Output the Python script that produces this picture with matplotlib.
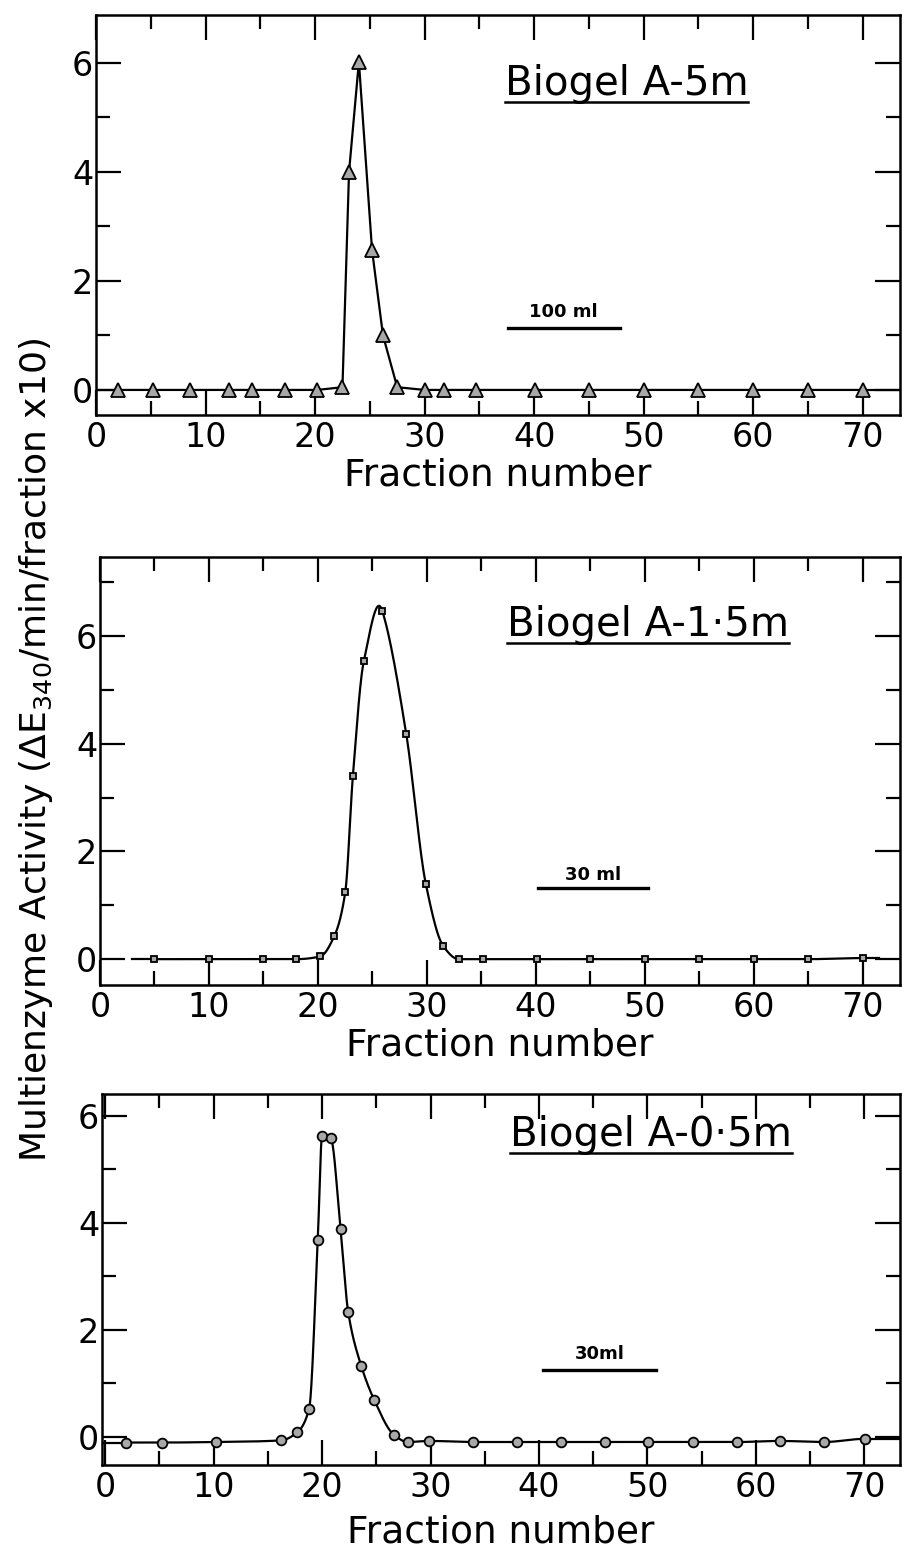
import numpy as np
import matplotlib
matplotlib.use("Agg")
import matplotlib.pyplot as plt

plt.rcParams['font.family'] = ['DejaVu Sans']

# ---------------- data ----------------
# Panel 1: Biogel A-5m (triangles)
x_a5 = [2, 5.2, 8.6, 12.1, 14.2, 17.3, 20.2, 22.5, 23.1, 24.0, 25.2, 26.2, 27.5,
        30.0, 31.8, 34.7, 40.1, 45.0, 50.0, 55.0, 60.0, 65.0, 70.0]
y_a5 = [0, 0, 0, 0, 0, 0, 0, 0.05, 4.0, 6.02, 2.57, 1.0, 0.05,
        0, 0, 0, 0, 0, 0, 0, 0, 0, 0]

# Panel 2: Biogel A-1.5m (squares)
x_a15 = [5, 10, 15, 18, 20.2, 21.5, 22.5, 23.2, 24.2, 25.9, 28.1, 29.9, 31.5,
         32.9, 35.1, 40.1, 45, 50, 55, 60, 65, 70]
y_a15 = [0, 0, 0, 0, 0.05, 0.43, 1.24, 3.4, 5.53, 6.47, 4.18, 1.39, 0.24,
         0.0, 0, 0, 0, 0, 0, 0, 0, 0.02]

# Panel 3: Biogel A-0.5m (circles)
x_a05 = [1.9, 5.2, 10.2, 16.2, 17.7, 18.8, 19.6, 20.0, 20.8, 21.7, 22.4, 23.6,
         24.8, 26.6, 27.9, 29.9, 33.9, 38.0, 42.0, 46.1, 50.1, 54.2, 58.3,
         62.2, 66.3, 70.1]
y_a05 = [-0.11, -0.11, -0.1, -0.07, 0.08, 0.52, 3.68, 5.63, 5.58, 3.88, 2.34,
         1.33, 0.69, 0.04, -0.1, -0.08, -0.1, -0.1, -0.1, -0.1, -0.1, -0.1,
         -0.1, -0.08, -0.1, -0.04]

titles = ["Biogel A-5m", "Biogel A-1\u00b75m", "Biogel A-0\u00b75m"]
scale_labels = ["100 ml", "30 ml", "30ml"]
xticks = [0, 10, 20, 30, 40, 50, 60, 70]
yticks = [0, 2, 4, 6]


def smooth_curve(x, y, free_peak=False, n=30):
    """Monotone cubic (PCHIP-like) drawing of the line through the points."""
    x = np.asarray(x, float)
    y = np.asarray(y, float)
    h = np.diff(x)
    d = np.diff(y) / h
    m = np.zeros_like(y)
    for k in range(1, len(x) - 1):
        if d[k - 1] * d[k] > 0:
            w1 = 2 * h[k] + h[k - 1]
            w2 = h[k] + 2 * h[k - 1]
            m[k] = (w1 + w2) / (w1 / d[k - 1] + w2 / d[k])
    if free_peak:
        k = int(np.argmax(y))
        m[k] = 0.75 * d[k] + 0.25 * d[k - 1]
    t = np.linspace(0, 1, n, endpoint=False)
    h00 = 2 * t**3 - 3 * t**2 + 1
    h10 = t**3 - 2 * t**2 + t
    h01 = -2 * t**3 + 3 * t**2
    h11 = t**3 - t**2
    xs, ys = [], []
    for i in range(len(x) - 1):
        xs.append(x[i] + t * h[i])
        ys.append(h00 * y[i] + h10 * h[i] * m[i] + h01 * y[i + 1] + h11 * h[i] * m[i + 1])
    xs.append([x[-1]])
    ys.append([y[-1]])
    return np.concatenate(xs), np.concatenate(ys)


W, H = 902, 1554
fig = plt.figure(figsize=(W / 100, H / 100), dpi=100)


def px_axes(left, top, right, bottom):
    return fig.add_axes([left / W, 1 - bottom / H, (right - left) / W, (bottom - top) / H])


ax1 = px_axes(96, 15, 900, 415)
ax2 = px_axes(100, 557, 900, 985)
ax3 = px_axes(102, 1094, 900, 1465)

cfg = [
    dict(ax=ax1, x=x_a5, y=y_a5, marker='^', ms=10, smooth=None,
         xlim=(0, 73.4), ylim=(-0.46, 6.88), yminor=[1, 3, 5],
         line_from=0, line_to=73.4,
         tpos=(37.3, 5.62), bar=(37.6, 47.8, 1.14), btxt=1.43),
    dict(ax=ax2, x=x_a15, y=y_a15, marker='s', ms=5, smooth='peak',
         xlim=(0, 73.4), ylim=(-0.48, 7.47), yminor=[1, 3, 5, 7],
         line_from=2.9, line_to=71.5,
         tpos=(37.3, 6.2), bar=(40.2, 50.3, 1.32), btxt=1.57),
    dict(ax=ax3, x=x_a05, y=y_a05, marker='o', ms=7, smooth='mono',
         xlim=(-0.3, 73.3), ylim=(-0.53, 6.41), yminor=[1, 3, 5],
         line_from=-0.3, line_to=73.3,
         tpos=(37.3, 5.64), bar=(40.4, 50.8, 1.25), btxt=1.55),
]

for c, title, sl in zip(cfg, titles, scale_labels):
    ax = c['ax']
    x, y = c['x'], c['y']
    if c['smooth'] is None:
        sx, sy = np.asarray(x, float), np.asarray(y, float)
    else:
        sx, sy = smooth_curve(x, y, free_peak=(c['smooth'] == 'peak'))
    # baseline extensions of the drawn line
    ax.plot([c['line_from'], x[0]], [y[0], y[0]], color='black', lw=1.6, zorder=2)
    ax.plot([x[-1], c['line_to']], [y[-1], y[-1]], color='black', lw=1.6, zorder=2)
    ax.plot(sx, sy, color='black', lw=1.6, zorder=2)
    ax.plot(x, y, linestyle='none', marker=c['marker'], ms=c['ms'],
            mfc='#a8a8a8', mec='black', mew=1.3, zorder=3)

    ax.set_xlim(*c['xlim'])
    ax.set_ylim(*c['ylim'])
    ax.set_xticks(xticks)
    ax.set_xticks([5, 15, 25, 35, 45, 55, 65], minor=True)
    ax.set_yticks(yticks)
    ax.set_yticks(c['yminor'], minor=True)
    ax.tick_params(which='both', direction='in', top=True, right=True,
                   width=1.6, labelsize=24, pad=4)
    ax.tick_params(which='major', length=18)
    ax.tick_params(which='minor', length=10)
    ax.tick_params(axis='y', pad=2)
    for s in ax.spines.values():
        s.set_linewidth(1.8)

    tx, ty = c['tpos']
    t = ax.text(tx, ty, title, fontsize=29, ha='left', va='center', zorder=4)
    c['title_artist'] = t

    b0, b1, by = c['bar']
    ax.plot([b0, b1], [by, by], color='black', lw=2.4)
    ax.text((b0 + b1) / 2, c['btxt'], sl, fontsize=13, ha='center', va='center',
            fontweight='semibold')

ax1.set_xlabel("Fraction number", fontsize=27, labelpad=3)
ax2.set_xlabel("Fraction number", fontsize=27, labelpad=3)
ax3.set_xlabel("Fraction number", fontsize=27, labelpad=8)

fig.text(36 / W, 1 - 750 / H,
         r"Multienzyme Activity ($\Delta\mathrm{E}_{340}$/min/fraction x10)",
         rotation=90, ha='center', va='center', fontsize=26)

# underline titles
fig.canvas.draw()
renderer = fig.canvas.get_renderer()
for c in cfg:
    ax = c['ax']
    t = c['title_artist']
    bb = t.get_window_extent(renderer)
    inv = ax.transData.inverted()
    (x0, y0) = inv.transform((bb.x0, bb.y0 + 2))
    (x1, _) = inv.transform((bb.x1, bb.y0))
    ax.plot([x0, x1], [y0, y0], color='black', lw=1.8, zorder=4)

fig.savefig("out.png", dpi=100)
